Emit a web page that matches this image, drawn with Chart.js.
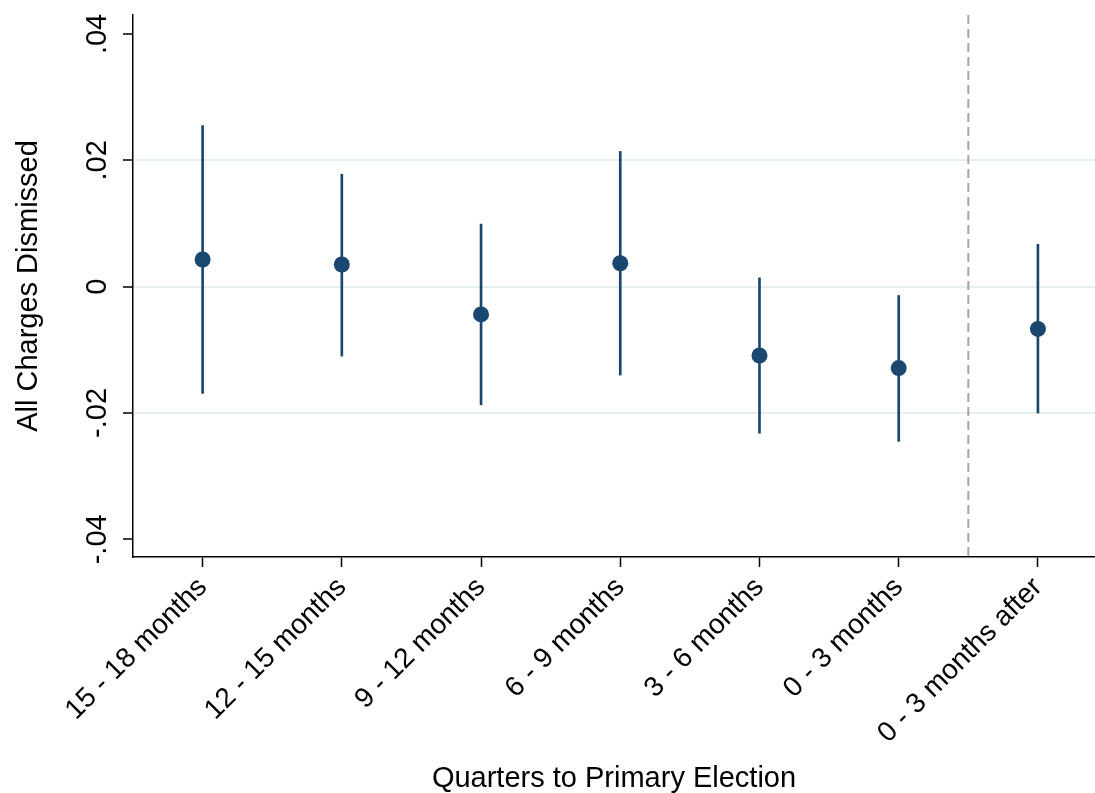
<!DOCTYPE html>
<html>
<head>
  <title>All Charges Dismissed by Quarter</title>
  <style>
    body { margin: 0; background: #fff; }
    #wrap { width: 1095px; height: 793px; }
  </style>
  <script src="https://cdn.jsdelivr.net/npm/chart.js"></script>
</head>
<body>
  <div id="wrap"><canvas id="chart"></canvas></div>
  <script>
    const categories = ['15 - 18 months', '12 - 15 months', '9 - 12 months', '6 - 9 months',
                        '3 - 6 months', '0 - 3 months', '0 - 3 months after'];
    const coef   = [0.0043, 0.0035, -0.0044, 0.0037, -0.0109, -0.0129, -0.0067];
    const ciLow  = [-0.0169, -0.0110, -0.0187, -0.0140, -0.0232, -0.0245, -0.0200];
    const ciHigh = [0.0255, 0.0178, 0.0099, 0.0214, 0.0014, -0.0014, 0.0067];
    const yTicks = [-0.04, -0.02, 0, 0.02, 0.04];
    const yTickLabels = ['-.04', '-.02', '0', '.02', '.04'];
    const cutoff = 6.5; // primary election, between last "before" and first "after" quarter

    const navy = 'rgb(26,71,111)';
    const font = '"Liberation Sans", Arial, Helvetica, sans-serif';

    // the y tick labels stand vertical in the original, so draw them here
    const yLabels = {
      id: 'yLabels',
      afterDraw(chart) {
        const y = chart.scales.y, ctx = chart.ctx;
        ctx.save();
        ctx.font = '29px ' + font;
        ctx.fillStyle = '#000';
        ctx.textAlign = 'center';
        ctx.textBaseline = 'middle';
        yTicks.forEach((v, i) => {
          ctx.save();
          ctx.translate(y.right - 35, y.getPixelForValue(v));
          ctx.rotate(-Math.PI / 2);
          ctx.fillText(yTickLabels[i], 0, 0);
          ctx.restore();
        });
        ctx.restore();
      }
    };

    const cutLine = {
      id: 'cutLine',
      beforeDatasetsDraw(chart) {
        const {ctx, chartArea} = chart;
        const x = chart.scales.x.getPixelForValue(cutoff);
        ctx.save();
        ctx.strokeStyle = '#a5a5a5';
        ctx.lineWidth = 2;
        ctx.setLineDash([9, 5]);
        ctx.beginPath();
        ctx.moveTo(x, chartArea.top);
        ctx.lineTo(x, chartArea.bottom);
        ctx.stroke();
        ctx.restore();
      }
    };

    new Chart(document.getElementById('chart'), {
      type: 'bar',
      data: {
        datasets: [
          {
            type: 'scatter',
            data: coef.map((v, i) => ({x: i + 1, y: v})),
            pointRadius: 8,
            pointBackgroundColor: navy,
            pointBorderWidth: 0,
            order: 0
          },
          {
            data: ciLow.map((v, i) => ({x: i + 1, y: [v, ciHigh[i]]})),
            backgroundColor: navy,
            barThickness: 2,
            order: 1
          }
        ]
      },
      options: {
        responsive: true,
        maintainAspectRatio: false,
        animation: false,
        layout: {autoPadding: false, padding: {top: 15, left: 0, right: 0, bottom: 0}},
        plugins: {legend: {display: false}, tooltip: {enabled: false}},
        scales: {
          x: {
            type: 'linear',
            offset: false,
            min: 0.5,
            max: 7.41,
            afterBuildTicks: s => { s.ticks = categories.map((c, i) => ({value: i + 1})); },
            afterFit: s => { s.height = 236; s.paddingLeft = 0; s.paddingRight = 0; },
            grid: {offset: false, drawOnChartArea: false, tickLength: 10, tickColor: '#000', tickWidth: 1.5},
            border: {color: '#000', width: 1.5},
            ticks: {
              minRotation: 45, maxRotation: 45, autoSkip: false, padding: 4,
              color: '#000', font: {family: font, size: 28},
              callback: v => categories[v - 1]
            },
            title: {
              display: true, text: 'Quarters to Primary Election', color: '#000',
              font: {family: font, size: 29, lineHeight: 1}, padding: 0
            }
          },
          y: {
            min: -0.0428,
            max: 0.0430,
            afterBuildTicks: s => { s.ticks = yTicks.map(v => ({value: v})); },
            afterFit: s => { s.width = 133; s.paddingTop = 0; s.paddingBottom = 0; },
            grid: {
              color: c => Math.abs(c.tick.value) < 0.03 ? '#e6eef0' : 'rgba(0,0,0,0)',
              lineWidth: 2, tickLength: 10, tickColor: '#000', tickWidth: 1.5
            },
            border: {color: '#000', width: 1.5},
            ticks: {display: false},
            title: {
              display: true, text: 'All Charges Dismissed', color: '#000',
              font: {family: font, size: 29, lineHeight: 1.2}, padding: {top: 12, bottom: 0}
            }
          }
        }
      },
      plugins: [yLabels, cutLine]
    });
  </script>
</body>
</html>
